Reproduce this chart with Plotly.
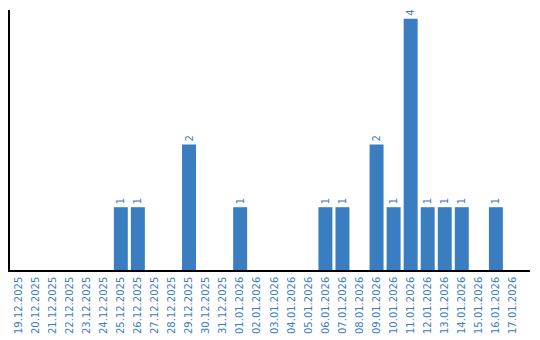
import plotly.graph_objects as go

dates = ["19.12.2025", "20.12.2025", "21.12.2025", "22.12.2025", "23.12.2025",
         "24.12.2025", "25.12.2025", "26.12.2025", "27.12.2025", "28.12.2025",
         "29.12.2025", "30.12.2025", "31.12.2025", "01.01.2026", "02.01.2026",
         "03.01.2026", "04.01.2026", "05.01.2026", "06.01.2026", "07.01.2026",
         "08.01.2026", "09.01.2026", "10.01.2026", "11.01.2026", "12.01.2026",
         "13.01.2026", "14.01.2026", "15.01.2026", "16.01.2026", "17.01.2026"]
counts = [0, 0, 0, 0, 0, 0, 1, 1, 0, 0, 2, 0, 0, 1, 0, 0, 0, 0, 1, 1,
          0, 2, 1, 4, 1, 1, 1, 0, 1, 0]

blue = "#3b7dc1"
labels = [str(v) if v > 0 else "" for v in counts]

fig = go.Figure(go.Bar(
    x=dates, y=counts, marker_color=blue, marker_line_width=0,
    text=labels, textposition="outside", textangle=-90,
    textfont=dict(family="DejaVu Sans", size=10, color=blue),
    cliponaxis=False,
))
fig.update_layout(
    width=540, height=340,
    margin=dict(l=10, r=10, t=10, b=70),
    plot_bgcolor="white", paper_bgcolor="white",
    bargap=0.18, showlegend=False,
    font=dict(family="DejaVu Sans", size=10, color=blue),
)
fig.update_xaxes(type="category", range=[-0.5, 30.0], tickangle=-90, showline=True,
                 linecolor="black", linewidth=1.5, ticks="", showgrid=False,
                 ticklabelstandoff=1, automargin=False,
                 tickfont=dict(family="DejaVu Sans", size=10, color=blue))
fig.update_yaxes(range=[0, 4.14], showline=True, linecolor="black", linewidth=1.5,
                 showticklabels=False, ticks="", showgrid=False, zeroline=False,
                 automargin=False)
fig.write_html("out.html")
